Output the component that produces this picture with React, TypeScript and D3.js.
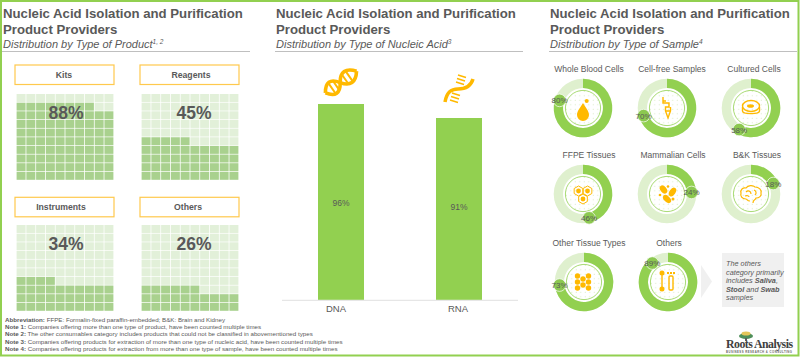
import React from "react";
import * as d3 from "d3";

const FONT = "'Liberation Sans', Arial, sans-serif";
const GREEN = "#92D050";
const ORANGE = "#FFB900";
const GREY = "#595959";

const productNames = ["Kits", "Reagents", "Instruments", "Others"];
const productValues = [88, 45, 34, 26];
const acidNames = ["DNA", "RNA"];
const acidValues = [96, 91];
const sampleNames = ["Whole Blood Cells", "Cell-free Samples", "Cultured Cells", "FFPE Tissues", "Mammalian Cells", "B&K Tissues", "Other Tissue Types", "Others"];
const sampleValues = [80, 70, 58, 46, 24, 18, 73, 89];
const subtitles = ["Distribution by Type of Product", "Distribution by Type of Nucleic Acid", "Distribution by Type of Sample"];
const subtitleNotes = ["1, 2", "3", "4"];
const notes: [string, string][] = [
  ["Abbreviation:", "FFPE: Formalin-fixed paraffin-embedded; B&K: Brain and Kidney"],
  ["Note 1:", "Companies offering more than one type of product, have been counted multiple times"],
  ["Note 2:", "The other consumables category includes products that could not be classified in abovementioned types"],
  ["Note 3:", "Companies offering products for extraction of more than one type of nucleic acid, have been counted multiple times"],
  ["Note 4:", "Companies offering products for extraction from more than one type of sample, have been counted multiple times"],
];

const gridIdx = d3.range(10);

function Header({ x, i, w }: { x: number; i: number; w: number }) {
  return (
    <g fontFamily={FONT} fill={GREY}>
      <text x={x} y={18} fontSize={13.2} fontWeight="bold">Nucleic Acid Isolation and Purification</text>
      <text x={x} y={34} fontSize={13.2} fontWeight="bold">Product Providers</text>
      <text x={x} y={48} fontSize={11} fontStyle="italic">
        {subtitles[i]}
        <tspan fontSize={6.5} dy={-4}>{subtitleNotes[i]}</tspan>
      </text>
      <line x1={x - 1} x2={x + w} y1={51.5} y2={51.5} stroke="#bfbfbf" strokeWidth={1} />
    </g>
  );
}

function Waffle({ name, value, x, y, top, lx, tx }: { name: string; value: number; x: number; y: number; top: number; lx: number; tx: number }) {
  const xs = d3.scaleBand<number>().domain(gridIdx).range([x + 1.6, x + 98.4]).paddingInner(0.08);
  const ys = d3.scaleBand<number>().domain(gridIdx).range([top, top + 85.8]).paddingInner(0.08);
  return (
    <g fontFamily={FONT}>
      <rect x={x} y={y} width={99} height={19.5} fill="#fff" stroke="#FFC94D" strokeWidth={1.2} />
      <text x={lx} y={y + 13} fontSize={8.7} fontWeight="bold" fill={GREY} textAnchor="middle">{name}</text>
      {gridIdx.flatMap((r) =>
        gridIdx.map((c) => (
          <rect key={`${r}-${c}`} x={xs(c)} y={ys(9 - r)} width={xs.bandwidth()} height={ys.bandwidth()}
            fill={r * 10 + c < value ? "#A9D18E" : "#E2F0D9"} />
        ))
      )}
      <text x={tx} y={top + 25} fontSize={17.5} fontWeight="bold" fill={GREY} textAnchor="middle">{value}%</text>
    </g>
  );
}

const tissueDots = [[-5.5, -6], [-5.5, 0], [-5.5, 6], [0, -3], [0, 3], [5.5, -6], [5.5, 0], [5.5, 6]];

function SampleIcon({ i }: { i: number }) {
  const s = { fill: "none", stroke: ORANGE, strokeWidth: 1.4 };
  const f = { fill: ORANGE };
  if (i === 0) return <g><path d="M0,-5 C-3,0 -6,3 -6,7 A6,6 0 0 0 6,7 C6,3 3,0 0,-5Z" {...f} /><circle cx={3.7} cy={-7} r={2} {...f} /></g>;
  if (i === 1) return <g {...s}><path d="M-4,-11 V-5 H2 V-1 H-1.5 V3 L1,10 L3.5,3 V-1" /><path d="M-1.5,3 H3.5 M-4,-7 H-1" /></g>;
  if (i === 2) return <g {...s}><ellipse cx={0} cy={-2} rx={8.5} ry={5.5} /><path d="M-8.5,-1 V3 C-8.5,6.5 8.5,6.5 8.5,3 V-1" /><ellipse cx={-0.5} cy={-2} rx={3.5} ry={1.8} {...f} stroke="none" /></g>;
  if (i === 3) return <g>{[[-4.5, -3], [4.5, -3], [0, 5]].map(([x, y], k) => <g key={k}><path d={d3.range(6).map((a) => `${a ? "L" : "M"}${x + 5 * Math.sin(a * Math.PI / 3)},${y + 5 * Math.cos(a * Math.PI / 3)}`).join("") + "Z"} {...s} strokeWidth={1} /><circle cx={x} cy={y} r={2.4} {...f} /></g>)}</g>;
  if (i === 4) return <g {...f}><ellipse cx={-3.5} cy={-4.5} rx={3} ry={4.6} transform="rotate(-40 -3.5 -4.5)" /><ellipse cx={5.5} cy={-2} rx={3} ry={4.8} transform="rotate(35 5.5 -2)" /><ellipse cx={0} cy={5} rx={3} ry={4.8} transform="rotate(-45 0 5)" /><circle cx={-7} cy={1} r={1.3} /><circle cx={6} cy={5} r={1.5} /><circle cx={1} cy={-7.5} r={1.3} /></g>;
  if (i === 5) return <g {...s} strokeWidth={1.2}><path d="M-1,7 C-4,7 -4,5 -5,5 C-9,5 -11,2 -10,-1 C-11,-4 -8,-7 -5,-6 C-3,-9 2,-9 4,-7 C8,-7 11,-4 10,-1 C11,2 8,4 5,4 C4,7 2,5 2,9" /><path d="M-5,-2 C-3,-4 0,-3 0,0 M3,-4 C5,-3 6,-1 4,1 M-6,2 C-4,1 -2,2 -2,3" /></g>;
  if (i === 6) return <g {...f}>{tissueDots.map(([x, y], k) => <circle key={k} cx={x - 1} cy={y} r={2.7} />)}</g>;
  return <g {...s}><path d="M-6,-9 V7" /><circle cx={-6} cy={-9} r={1.8} {...f} /><circle cx={-6} cy={7} r={1.8} {...f} /><rect x={1} y={-6} width={4} height={14} rx={1} /><path d="M-1,-9 H7" strokeDasharray="2 1" strokeWidth={2} /></g>;
}

const arcGen = d3.arc();
const sampleScale = d3.scaleLinear().domain([0, 100]).range([0, 2 * Math.PI]);

function Donut({ i, cx, cy, lx, ly }: { i: number; cx: number; cy: number; lx: number; ly: number }) {
  const v = sampleValues[i];
  const a = sampleScale(v);
  const rOut = 29.3, rIn = 20;
  const track = arcGen({ innerRadius: rIn, outerRadius: rOut, startAngle: 0, endAngle: 2 * Math.PI }) as string;
  const val = arcGen({ innerRadius: rIn, outerRadius: rOut, startAngle: 0, endAngle: a }) as string;
  const bx = 24.6 * Math.sin(a), by = -24.6 * Math.cos(a);
  return (
    <g fontFamily={FONT}>
      <text x={lx} y={ly} fontSize={8.5} fill={GREY} textAnchor="middle">{sampleNames[i]}</text>
      <g transform={`translate(${cx},${cy})`}>
        <path d={track} fill="#DFF0CE" />
        <path d={val} fill={GREEN} />
        <circle r={17.6} fill="url(#dots)" stroke={GREEN} strokeWidth={0.8} />
        <SampleIcon i={i} />
        <circle cx={bx} cy={by} r={6.3} fill="#8CC850" stroke="#fff" strokeWidth={0.7} />
        <text x={bx} y={by + 3} fontSize={8} fill={GREY} textAnchor="middle">{v}%</text>
      </g>
    </g>
  );
}

export default function App() {
  const yBar = d3.scaleLinear().domain([26, 96]).range([300, 104]);
  const barW = 46;
  const barX = [318, 436];
  const barLabelY = [206, 210];
  const wafflePos = [
    { x: 15, y: 65, top: 94, lx: 64, tx: 66 },
    { x: 140, y: 65, top: 94, lx: 191, tx: 194 },
    { x: 15, y: 197.3, top: 225, lx: 61, tx: 66 },
    { x: 140, y: 197.3, top: 225, lx: 188, tx: 194 },
  ];
  const donutPos = [
    { cx: 583, cy: 108, lx: 589, ly: 72 }, { cx: 667, cy: 108, lx: 672, ly: 72 }, { cx: 751, cy: 108, lx: 754, ly: 72 },
    { cx: 583, cy: 194, lx: 589, ly: 158 }, { cx: 667, cy: 194, lx: 673, ly: 158 }, { cx: 751, cy: 194, lx: 757, ly: 158 },
    { cx: 584, cy: 282, lx: 589, ly: 246 }, { cx: 668, cy: 282, lx: 669, ly: 246 },
  ];
  return (
    <svg width={800} height={357} style={{ position: "fixed", left: 0, top: 0 }} viewBox="0 0 800 357">
      <defs>
        <pattern id="dots" width={4.5} height={4.5} patternUnits="userSpaceOnUse">
          <rect width={4.5} height={4.5} fill="#fff" />
          <circle cx={1.2} cy={1.2} r={0.5} fill="#cfe6b4" />
        </pattern>
      </defs>
      <rect width={800} height={357} fill="#fff" />
      <path d="M1,1 H798.5 V355.5 H1 Z" fill="none" stroke={GREEN} strokeWidth={2} />

      <Header x={3} i={0} w={247} />
      <Header x={276} i={1} w={247} />
      <Header x={550} i={2} w={247} />

      {productNames.map((n, i) => (
        <Waffle key={n} name={n} value={productValues[i]} {...wafflePos[i]} />
      ))}

      {acidNames.map((n, i) => (
        <g key={n} fontFamily={FONT}>
          <rect x={barX[i]} y={yBar(acidValues[i])} width={barW} height={yBar(26) - yBar(acidValues[i])} fill={GREEN} />
          <text x={barX[i] + barW / 2} y={barLabelY[i]} fontSize={8.5} fill={GREY} textAnchor="middle">{acidValues[i]}%</text>
          <text x={[336, 458][i]} y={312} fontSize={9.5} fill={GREY} textAnchor="middle">{n}</text>
        </g>
      ))}
      <line x1={282} x2={518} y1={300.3} y2={300.3} stroke="#e6e6e6" strokeWidth={1.2} />

      <g transform="translate(341,82) rotate(-35)" fill="none" stroke={ORANGE}>
        <path d="M-19,0 C-13,-9 -7,-9 -1,0 S12,9 19,0" strokeWidth={3.6} />
        <path d="M-19,0 C-13,9 -7,9 -1,0 S12,-9 19,0" strokeWidth={3.6} />
        <path d="M-11,-6 V6 M-6,-6 V6 M5,-6 V6 M10,-6 V6" strokeWidth={2} />
      </g>
      <g transform="translate(459,92)" fill="none" stroke={ORANGE}>
        <path d="M-14,10 C-12,-2 -6,-3 -1,-3 C6,-3 12,-6 14,-13" strokeWidth={3.5} />
        <path d="M-1,-17 L7,-14.5 M-2,-13.5 L6,-11 M-3,-10 L5,-7.5 M-7,1 L1,3.5 M-8,4.5 L0,7 M-9,8 L-1,10.5" strokeWidth={1.5} />
      </g>

      {sampleNames.map((n, i) => <Donut key={n} i={i} {...donutPos[i]} />)}

      <path d="M701,265 L712,281.5 L701,298 Z" fill="#f0f0f0" />
      <rect x={722} y={253} width={62} height={54} fill="#f0f0f0" />
      <g fontFamily={FONT} fontSize={7.3} fontStyle="italic" fill={GREY}>
        <text x={726} y={266}>The others</text>
        <text x={726} y={274.5}>category primarily</text>
        <text x={726} y={283}>includes <tspan fontWeight="bold">Saliva</tspan>,</text>
        <text x={726} y={291.5}><tspan fontWeight="bold">Stool</tspan> and <tspan fontWeight="bold">Swab</tspan></text>
        <text x={726} y={299.5}>samples</text>
      </g>

      <g fontFamily={FONT} fontSize={6.2} fill={GREY}>
        {notes.map(([k, t], i) => (
          <text key={k} x={5} y={321.5 + i * 7.4}>
            <tspan fontWeight="bold">{k}</tspan> {t}
          </text>
        ))}
      </g>

      <g>
        <ellipse cx={746} cy={336} rx={7} ry={3} fill="#4E8F5A" />
        <ellipse cx={746} cy={333.5} rx={4.5} ry={2} fill="#E4C65A" />
        <rect x={745} y={338} width={2} height={3} fill="#5d5d5d" />
        <text x={726} y={347.5} fontFamily="'Liberation Serif', serif" fontSize={11.8} fontWeight="bold" fill="#404040" textLength={67}>Roots Analysis</text>
        <text x={726} y={352.5} fontFamily={FONT} fontSize={2.8} fontWeight="bold" fill="#666" textLength={66}>BUSINESS RESEARCH &amp; CONSULTING</text>
      </g>
    </svg>
  );
}
